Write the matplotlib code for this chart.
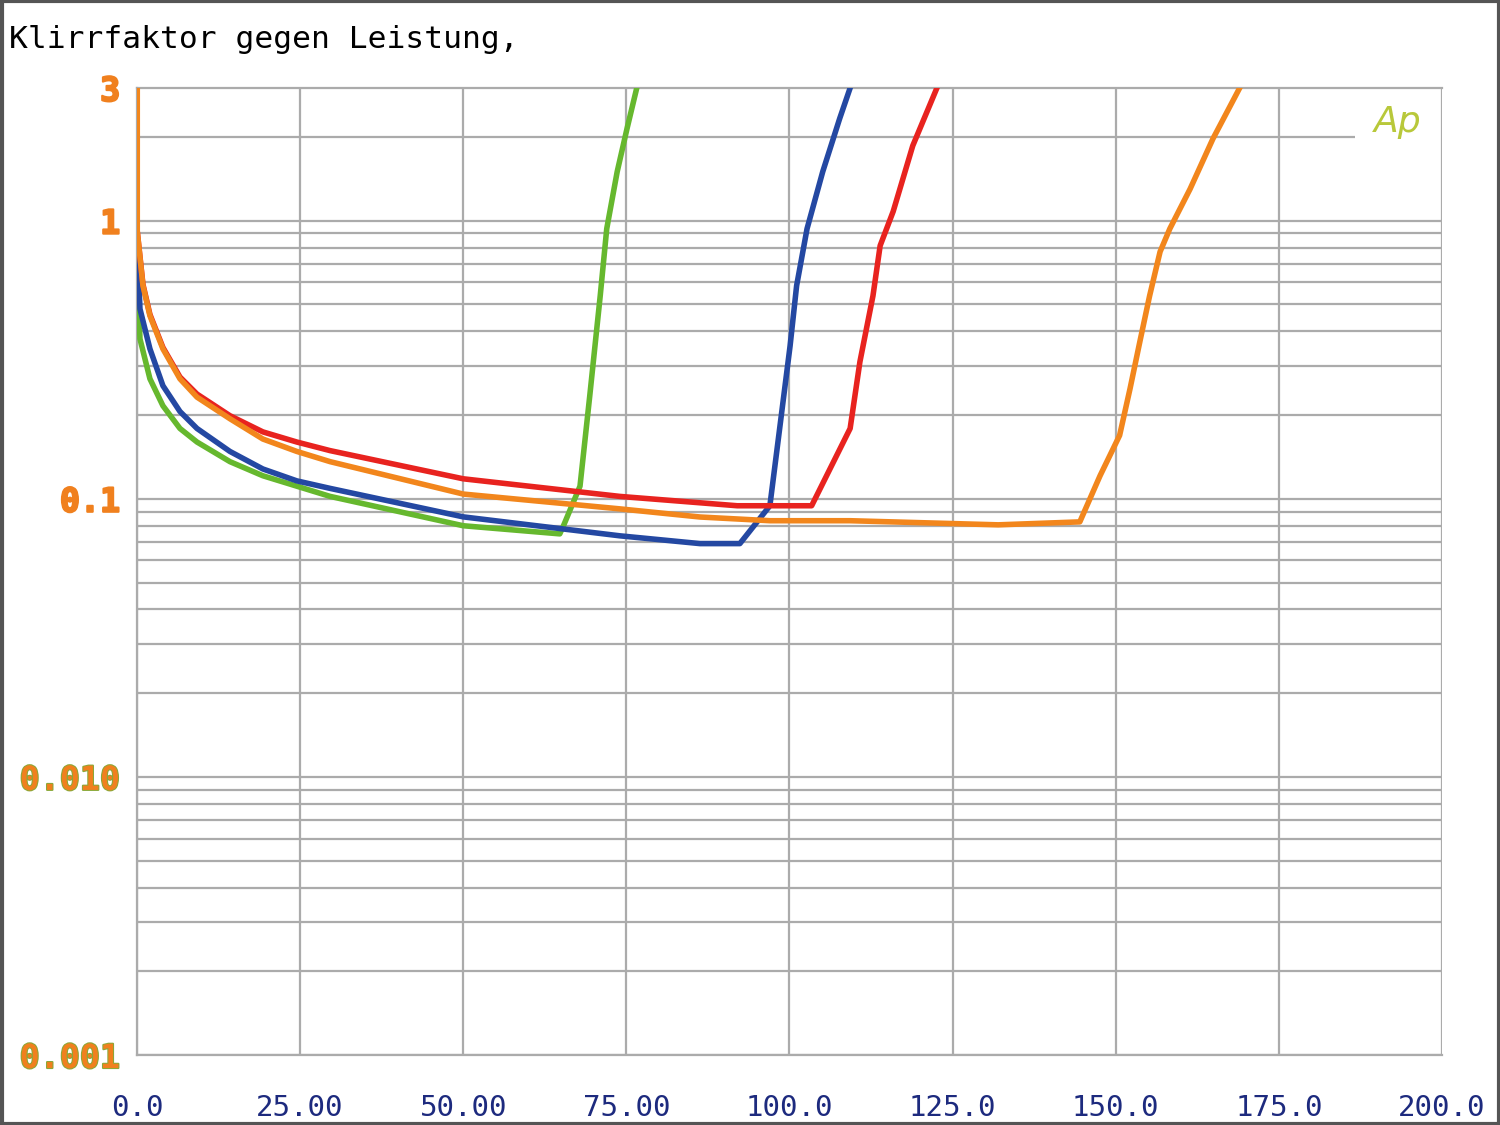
import matplotlib
matplotlib.use('Agg')
import matplotlib.pyplot as plt
import matplotlib.patheffects as pe
from matplotlib.patches import Rectangle

# Klirrfaktor (%) over Leistung (W), four curves
green_x = [0.05, 0.46, 1.99, 3.98, 6.59, 9.2, 14.25, 19.3, 24.5, 29.6, 50.0, 64.8, 65.3, 67.9, 69.4, 71.0, 72.0, 73.6, 75.1, 76.6]
green_y = [0.75, 0.376, 0.27, 0.216, 0.179, 0.16, 0.136, 0.121, 0.111, 0.102, 0.08, 0.0748, 0.0793, 0.111, 0.235, 0.537, 0.936, 1.5, 2.14, 3.0]

blue_x = [0.05, 0.46, 1.99, 3.98, 6.59, 9.2, 14.25, 19.3, 24.5, 29.6, 50.0, 74.0, 86.3, 92.4, 97.0, 98.5, 100.1, 101.1, 102.7, 105.1, 107.7, 109.3]
blue_y = [0.86, 0.482, 0.346, 0.255, 0.206, 0.179, 0.148, 0.128, 0.116, 0.109, 0.0861, 0.0736, 0.069, 0.069, 0.0944, 0.179, 0.355, 0.584, 0.936, 1.5, 2.33, 3.0]

red_x = [0.05, 0.92, 1.99, 3.98, 6.59, 9.2, 14.25, 19.3, 24.5, 29.6, 50.0, 74.0, 92.0, 103.4, 109.3, 110.8, 112.8, 113.9, 115.9, 118.9, 122.6]
red_y = [0.913, 0.59, 0.46, 0.35, 0.274, 0.238, 0.199, 0.174, 0.16, 0.149, 0.118, 0.102, 0.0944, 0.0944, 0.179, 0.311, 0.537, 0.813, 1.08, 1.86, 3.0]

orange_x = [0.05, 0.05, 0.92, 1.99, 3.98, 6.59, 9.2, 14.25, 19.3, 24.5, 29.6, 50.0, 74.0, 86.3, 97.0, 109.3, 132.0, 144.5, 147.6, 150.6, 152.2, 153.7, 155.2, 156.8, 158.3, 161.4, 164.9, 169.0]
orange_y = [3.0, 0.913, 0.584, 0.455, 0.346, 0.27, 0.232, 0.194, 0.164, 0.148, 0.136, 0.104, 0.092, 0.086, 0.0834, 0.0834, 0.0806, 0.0826, 0.121, 0.169, 0.249, 0.367, 0.537, 0.773, 0.936, 1.3, 1.97, 3.0]

x_ticks = [0, 25, 50, 75, 100, 125, 150, 175, 200]
x_labels = ['0.0', '25.00', '50.00', '75.00', '100.0', '125.0', '150.0', '175.0', '200.0']
y_ticks = [0.001, 0.01, 0.1, 1, 3]
y_labels = ['0.001', '0.010', '0.1', '1', '3']

mono = 'DejaVu Sans Mono'
grid_col = '#ababab'

fig = plt.figure(figsize=(15, 11.25), dpi=100)
ax = fig.add_axes([0.0913, 0.0622, 0.870, 0.8596])
ax.set_yscale('log')
ax.set_xlim(0, 200)
ax.set_ylim(0.001, 3)

# grid lines
for xv in x_ticks:
    ax.axvline(xv, color=grid_col, lw=1.6, zorder=1)
for dec in [0.001, 0.01, 0.1]:
    for m in range(1, 10):
        ax.axhline(dec * m, color=grid_col, lw=1.6, zorder=1)
ax.axhline(1, color=grid_col, lw=1.6, zorder=1)
ax.hlines(2, 0, 186.7, color=grid_col, lw=1.6, zorder=1)

lw = 4.0
ax.plot(green_x, green_y, color='#66b82e', lw=lw, zorder=3)
ax.plot(blue_x, blue_y, color='#2448a2', lw=lw, zorder=3)
ax.plot(red_x, red_y, color='#e8231f', lw=lw, zorder=4)
ax.plot(orange_x, orange_y, color='#f2861c', lw=lw, zorder=5)

for s in ax.spines.values():
    s.set_color(grid_col)
    s.set_linewidth(1.6)
ax.spines['right'].set_visible(False)

ax.set_xticks(x_ticks)
ax.set_xticklabels(x_labels, family=mono, fontsize=21, color='#1d2a7e')
ax.set_yticks(y_ticks)
ax.set_yticklabels(y_labels, family=mono, fontsize=24, fontweight='bold', color='#f0801e')
ax.yaxis.set_minor_locator(matplotlib.ticker.NullLocator())
ax.tick_params(axis='x', length=0, pad=28)
ax.tick_params(axis='y', length=0, pad=12)
for lab in ax.get_yticklabels():
    lab.set_path_effects([pe.withStroke(linewidth=1.5, foreground='#f0801e')])
    if lab.get_text() in ('0.001', '0.010'):
        lab.set_path_effects([pe.withStroke(linewidth=1.5, foreground='#8aa838')])

fig.text(0.006, 0.965, 'Klirrfaktor gegen Leistung,', family=mono, fontsize=22.5,
         color='black', ha='left', va='center')
fig.text(1398 / 1500, 1 - 122 / 1125, 'Ap', fontsize=26,
         style='italic', color='#b8c83a', ha='center', va='center')

# frame around the whole picture
fig.patches.append(Rectangle((0.001, 0.001), 0.998, 0.998, transform=fig.transFigure,
                             fill=False, edgecolor='#555555', lw=3))

fig.savefig('out.png', dpi=100)
